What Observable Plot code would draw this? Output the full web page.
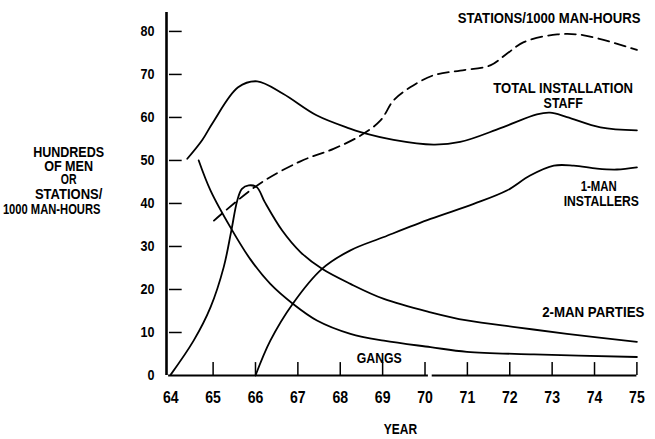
<!DOCTYPE html>
<html><head><meta charset="utf-8">
<script src="https://cdn.jsdelivr.net/npm/d3@7"></script>
<script src="https://cdn.jsdelivr.net/npm/@observablehq/plot@0.6"></script>
<style>
html,body{margin:0;padding:0;background:#fff;}
</style></head><body><div id="chart"></div>
<script>
// ---- data ----
const xTicks = [64, 65, 66, 67, 68, 69, 70, 71, 72, 73, 74, 75];
const yTicks = [0, 10, 20, 30, 40, 50, 60, 70, 80];

const totalYear  = [64.39, 64.74, 65.0, 65.59, 66.04, 66.65, 67.44, 68.23, 68.48, 69.26, 70.2, 70.83, 71.78, 72.64, 72.95, 73.35, 74.14, 75.0];
const totalValue = [50.4, 54.7, 58.9, 67.0, 68.4, 65.5, 60.5, 57.4, 56.6, 54.8, 53.7, 54.3, 57.5, 60.7, 61.1, 60.1, 57.7, 57.0];

const stationsYear  = [65.02, 66.04, 67.06, 67.84, 68.48, 68.95, 69.26, 69.65, 70.2, 70.83, 71.54, 71.93, 72.33, 73.12, 73.75, 75.0];
const stationsValue = [36.0, 44.2, 49.8, 52.7, 55.8, 59.3, 64.0, 67.0, 69.8, 70.9, 72.1, 74.8, 77.5, 79.3, 79.1, 75.7];

const twoManYear  = [64.0, 64.54, 64.94, 65.25, 65.43, 65.57, 65.68, 65.84, 66.03, 66.22, 66.63, 67.06, 67.57, 68.24, 69.03, 70.13, 70.99, 72.17, 73.35, 75.0];
const twoManValue = [0.2, 8.1, 15.9, 25.2, 33.7, 40.7, 43.4, 44.2, 43.8, 40.3, 33.7, 28.7, 24.8, 21.3, 17.8, 14.7, 12.8, 11.2, 9.7, 7.8];

const gangsYear  = [64.66, 64.94, 65.43, 65.88, 66.35, 66.88, 67.45, 68.24, 69.03, 70.13, 70.99, 72.57, 75.0];
const gangsValue = [50.0, 43.0, 34.1, 27.0, 21.3, 16.7, 12.8, 9.7, 8.1, 6.6, 5.5, 4.9, 4.3];

const oneManYear  = [66.0, 66.35, 66.88, 67.57, 68.24, 69.03, 70.13, 71.15, 71.93, 72.48, 73.04, 73.51, 74.06, 74.53, 75.0];
const oneManValue = [0, 8.1, 16.7, 24.8, 29.1, 32.2, 36.4, 39.9, 43.0, 46.5, 48.8, 48.8, 48.1, 47.9, 48.4];

const curveLabels = ["STATIONS/1000 MAN-HOURS", "TOTAL INSTALLATION", "STAFF", "1-MAN", "INSTALLERS", "2-MAN PARTIES", "GANGS"];
const curveLabelX = [72.93, 73.26, 73.26, 74.1, 74.16, 73.97, 68.92];
const curveLabelY = [83.0, 66.9, 63.4, 43.95, 40.5, 14.65, 4.1];

const yTitle  = ["HUNDREDS", "OF MEN", "OR", "STATIONS/", "1000 MAN-HOURS"];
const yTitleX = [61.59, 61.59, 61.59, 61.59, 61.19];
const yTitleY = [51.86, 48.7, 45.5, 42.0, 38.5];
const xTitle = "YEAR";

// ---- tables built from the arrays ----
const zip = (xs, ys) => xs.map((x, i) => ({x, y: ys[i]}));
const total = zip(totalYear, totalValue);
const stations = zip(stationsYear, stationsValue);
const twoMan = zip(twoManYear, twoManValue);
const gangs = zip(gangsYear, gangsValue);
const oneMan = zip(oneManYear, oneManValue);
const labels = curveLabels.map((t, i) => ({t, x: curveLabelX[i], y: curveLabelY[i]}));
const yLab = yTitle.map((t, i) => ({t, x: yTitleX[i], y: yTitleY[i]}));

// ---- style ----
const FONT = '"Liberation Sans", Arial, sans-serif';
const lineOpts = {x: "x", y: "y", curve: "catmull-rom", stroke: "black", strokeWidth: 1.8};
// horizontal condensing of the bold sans to imitate the condensed lettering
const squeezeText = {
  "STATIONS/1000 MAN-HOURS": 0.877, "TOTAL INSTALLATION": 0.873, "STAFF": 0.83,
  "1-MAN": 0.76, "INSTALLERS": 0.81, "2-MAN PARTIES": 0.885, "GANGS": 0.82,
  "HUNDREDS": 0.895, "OF MEN": 0.9, "OR": 0.75, "STATIONS/": 0.93, "1000 MAN-HOURS": 0.8, "YEAR": 0.8
};
const squeezeX = 0.88, squeezeY = 0.84;

const chart = Plot.plot({
  width: 655, height: 439,
  marginLeft: 166, marginRight: 18.6, marginTop: 12, marginBottom: 64,
  x: {domain: [63.9, 75]},
  y: {domain: [0, 84.4]},
  style: {fontFamily: FONT, background: "white", color: "black"},
  marks: [
    Plot.axisY({ticks: yTicks, tickSize: 0, tickPadding: 12, fontSize: 15, fontWeight: "bold", label: null, tickFormat: d => String(d)}),
    Plot.axisX({ticks: xTicks, tickSize: 0, tickPadding: 16, fontSize: 16, fontWeight: "bold", label: null, tickFormat: d => String(d)}),
    Plot.ruleX([63.9], {strokeWidth: 2.6}),
    Plot.ruleY([0], {x1: 63.95, x2: 70.08, strokeWidth: 2}),
    Plot.ruleY([0], {x1: 70.17, x2: 75, strokeWidth: 2}),
    Plot.ruleY(yTicks.filter(d => d > 0), {x1: 63.97, x2: 64.27, strokeWidth: 1.5}),
    Plot.ruleX(xTicks.filter(d => d > 64), {y1: 0, y2: 3, strokeWidth: 1.5}),
    Plot.line(total, lineOpts),
    Plot.line(stations, {...lineOpts, strokeDasharray: "11,6"}),
    Plot.line(twoMan, lineOpts),
    Plot.line(gangs, lineOpts),
    Plot.line(oneMan, lineOpts),
    Plot.text(labels, {x: "x", y: "y", text: "t", fontSize: 15, fontWeight: "bold", fill: "black"}),
    Plot.text(yLab, {x: "x", y: "y", text: "t", fontSize: 14, fontWeight: "bold", fill: "black"}),
    Plot.text([xTitle], {x: 69.42, y: -12.56, text: d => d, fontSize: 15, fontWeight: "bold", fill: "black"})
  ]
});
document.getElementById("chart").appendChild(chart);

// condense glyphs horizontally around each text's own anchor point
function squeeze(node, f) {
  let t = node.getAttribute("transform") || "";
  const x = node.getAttribute("x");
  if (x !== null && /^-?[\d.]+$/.test(x)) {
    t += ` translate(${x},0)`;
    node.removeAttribute("x");
  }
  node.setAttribute("transform", `${t} scale(${f},1)`.trim());
}
d3.select(chart).selectAll('g[aria-label="x-axis tick label"] text').each(function() { squeeze(this, squeezeX); });
d3.select(chart).selectAll('g[aria-label="y-axis tick label"] text').each(function() { squeeze(this, squeezeY); });
d3.select(chart).selectAll('g[aria-label="text"] text').each(function() {
  const f = squeezeText[this.textContent];
  if (f) squeeze(this, f);
});
</script></body></html>
